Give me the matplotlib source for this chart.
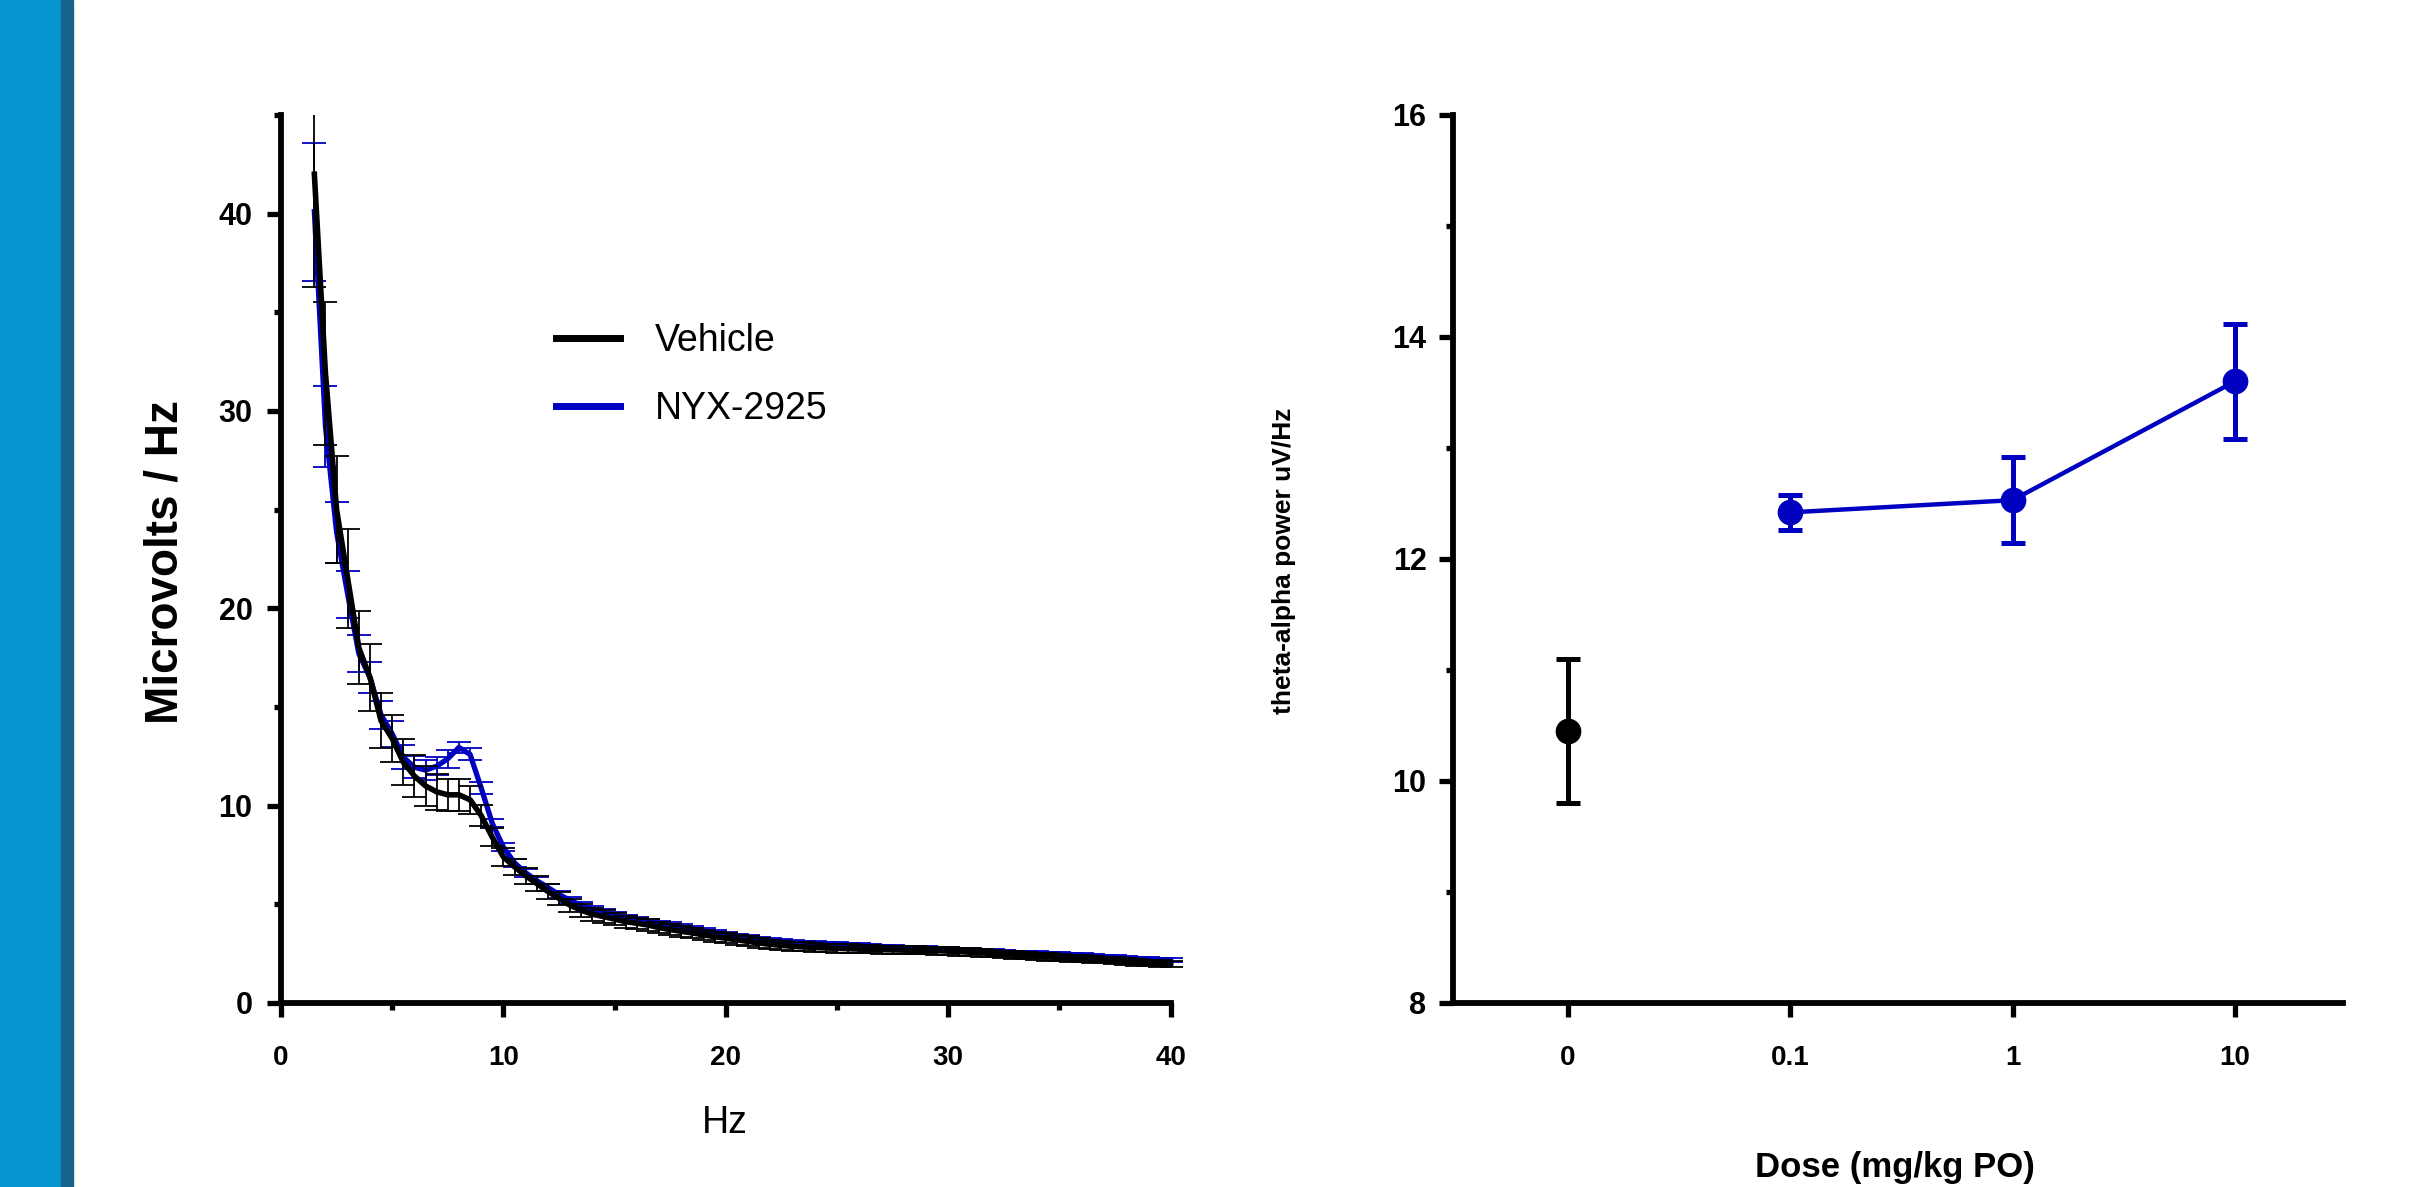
import numpy as np
import matplotlib.pyplot as plt
from matplotlib.lines import Line2D
from matplotlib.patches import Rectangle

plt.rcParams['font.family'] = ['Liberation Sans', 'DejaVu Sans']

# ---- left panel: EEG power spectrum (mean +/- SEM) ----
hz = [1.5, 2.0, 2.5, 3.0, 3.5, 4.0, 4.5, 5.0, 5.5, 6.0, 6.5, 7.0, 7.5, 8.0, 8.5, 9.0,
      9.5, 10.0, 10.5, 11.0, 11.5, 12.0, 12.5, 13.0, 13.5, 14.0, 14.5, 15.0, 15.5, 16.0,
      16.5, 17.0, 17.5, 18.0, 18.5, 19.0, 19.5, 20.0, 20.5, 21.0, 21.5, 22.0, 22.5, 23.0,
      23.5, 24.0, 24.5, 25.0, 25.5, 26.0, 26.5, 27.0, 27.5, 28.0, 28.5, 29.0, 29.5, 30.0,
      30.5, 31.0, 31.5, 32.0, 32.5, 33.0, 33.5, 34.0, 34.5, 35.0, 35.5, 36.0, 36.5, 37.0,
      37.5, 38.0, 38.5, 39.0, 39.5, 40.0]

vehicle = [42.0, 31.9, 25.0, 21.5, 18.0, 16.5, 14.3, 13.4, 12.2, 11.5, 11.0, 10.7, 10.55, 10.55,
           10.3, 9.5, 8.4, 7.4, 6.9, 6.45, 6.05, 5.65, 5.3, 4.95, 4.7, 4.5, 4.38, 4.25, 4.12,
           4.04, 3.95, 3.82, 3.72, 3.63, 3.55, 3.45, 3.36, 3.28, 3.2, 3.12, 3.04, 2.97, 2.92,
           2.87, 2.84, 2.81, 2.79, 2.77, 2.75, 2.73, 2.72, 2.7, 2.69, 2.68, 2.67, 2.66, 2.65,
           2.63, 2.6, 2.57, 2.54, 2.5, 2.47, 2.43, 2.4, 2.37, 2.33, 2.3, 2.27, 2.24, 2.21, 2.18,
           2.14, 2.1, 2.06, 2.03, 2.0, 1.97]
vehicle_sem = [5.7, 3.6, 2.7, 2.5, 1.85, 1.7, 1.4, 1.2, 1.17, 1.07, 1.0, 0.9, 0.8, 0.8, 0.7,
               0.52, 0.45, 0.45, 0.4, 0.4, 0.38, 0.36, 0.35, 0.34, 0.33, 0.32, 0.31, 0.3, 0.3,
               0.29, 0.29, 0.28, 0.28, 0.27, 0.27, 0.26, 0.26, 0.25, 0.25, 0.25, 0.24, 0.24,
               0.24, 0.23, 0.23, 0.23, 0.22, 0.22, 0.22, 0.22, 0.21, 0.21, 0.21, 0.21, 0.2, 0.2,
               0.2, 0.2, 0.2, 0.2, 0.19, 0.19, 0.19, 0.19, 0.19, 0.18, 0.18, 0.18, 0.18, 0.18,
               0.17, 0.17, 0.17, 0.17, 0.16, 0.16, 0.16, 0.16]

nyx = [40.1, 29.2, 23.85, 20.7, 17.7, 16.5, 14.6, 13.64, 12.45, 11.95, 11.8, 12.0, 12.38, 12.95,
       12.6, 10.9, 9.1, 7.9, 7.1, 6.6, 6.2, 5.85, 5.5, 5.2, 4.95, 4.75, 4.58, 4.45, 4.33, 4.23,
       4.13, 4.03, 3.94, 3.84, 3.75, 3.65, 3.56, 3.47, 3.38, 3.3, 3.22, 3.15, 3.1, 3.06, 3.03,
       3.0, 2.98, 2.96, 2.93, 2.9, 2.87, 2.85, 2.82, 2.8, 2.78, 2.76, 2.74, 2.72, 2.69, 2.67,
       2.64, 2.62, 2.59, 2.56, 2.54, 2.51, 2.49, 2.47, 2.44, 2.41, 2.38, 2.35, 2.32, 2.28,
       2.25, 2.22, 2.19, 2.16]
nyx_sem = [3.5, 2.05, 1.55, 1.2, 0.95, 0.8, 0.7, 0.66, 0.6, 0.55, 0.5, 0.45, 0.45, 0.3, 0.3,
           0.3, 0.2, 0.2, 0.2, 0.19, 0.18, 0.18, 0.17, 0.17, 0.16, 0.16, 0.16, 0.15, 0.15,
           0.15, 0.15, 0.14, 0.14, 0.14, 0.14, 0.14, 0.13, 0.13, 0.13, 0.13, 0.13, 0.13, 0.12,
           0.12, 0.12, 0.12, 0.12, 0.12, 0.12, 0.12, 0.11, 0.11, 0.11, 0.11, 0.11, 0.11, 0.11,
           0.11, 0.11, 0.11, 0.1, 0.1, 0.1, 0.1, 0.1, 0.1, 0.1, 0.1, 0.1, 0.1, 0.1, 0.1, 0.1,
           0.1, 0.1, 0.1, 0.1, 0.1]

# ---- right panel: theta-alpha power by dose ----
dose_labels = ['0', '0.1', '1', '10']
veh_power, veh_power_sem = 10.45, 0.65
drug_power = [12.42, 12.53, 13.60]
drug_power_sem = [0.16, 0.39, 0.52]

BLUE = '#0000C0'
W, H = 2410, 1187

fig = plt.figure(figsize=(24.1, 11.87), dpi=100)

# blue side strip
fig.patches.append(Rectangle((0, 0), 61 / W, 1, transform=fig.transFigure, color='#0796D1', zorder=0))
fig.patches.append(Rectangle((61 / W, 0), 12 / W, 1, transform=fig.transFigure, color='#15668A', zorder=0))


def style_axes(ax, ypad):
    for s in ['top', 'right']:
        ax.spines[s].set_visible(False)
    for s in ['left', 'bottom']:
        ax.spines[s].set_linewidth(4.2)
    ax.tick_params(which='major', length=10, width=3.8)
    ax.tick_params(which='minor', length=5, width=3.8)
    ax.tick_params(axis='y', which='major', labelsize=22, pad=ypad)
    ax.tick_params(axis='x', which='major', labelsize=20, pad=20)
    for lab in ax.get_xticklabels() + ax.get_yticklabels():
        lab.set_fontweight('bold')


# left
ax1 = fig.add_axes([281 / W, (H - 1003) / H, 903 / W, 888 / H])
ax1.errorbar(hz, nyx, yerr=nyx_sem, color=BLUE, lw=3.8, elinewidth=1.3,
             capsize=8.6, capthick=1.3, zorder=2)
ax1.errorbar(hz, vehicle, yerr=vehicle_sem, color='black', lw=4.0, elinewidth=1.3,
             capsize=8.6, capthick=1.3, zorder=3)
ax1.set_xlim(0, 40.6)
ax1.set_ylim(0, 45)
ax1.spines['bottom'].set_bounds(0, 40)
ax1.set_xticks([0, 10, 20, 30, 40])
ax1.set_xticks([5, 15, 25, 35], minor=True)
ax1.set_yticks([0, 10, 20, 30, 40])
ax1.set_yticks([5, 15, 25, 35, 45], minor=True)
style_axes(ax1, 10.5)

handles = [Line2D([], [], color='black', lw=5), Line2D([], [], color=BLUE, lw=5)]
ax1.legend(handles, ['Vehicle', 'NYX-2925'], loc='upper left',
           bbox_to_anchor=(556 / W, 1 - 323 / H), bbox_transform=fig.transFigure,
           frameon=False, borderpad=0, borderaxespad=0, handlelength=1.7,
           handletextpad=0.93, labelspacing=0.86, fontsize=27)

fig.text(165 / W, 1 - 562 / H, 'Microvolts / Hz', rotation=90, ha='center', va='center',
         fontsize=33, fontweight='bold')
fig.text(725 / W, 1 - 1123 / H, 'Hz', ha='center', va='center', fontsize=27)

# right
ax2 = fig.add_axes([1453 / W, (H - 1003) / H, 890 / W, 888 / H])
pos = np.arange(len(dose_labels))
ax2.errorbar([pos[0]], [veh_power], yerr=[veh_power_sem], color='black', marker='o', ms=17.5,
             lw=0, elinewidth=3.6, capsize=8.7, capthick=3.6, zorder=3)
ax2.errorbar(pos[1:], drug_power, yerr=drug_power_sem, color=BLUE, marker='o', ms=17.5,
             lw=3.2, elinewidth=3.6, capsize=8.7, capthick=3.6, zorder=3)
ax2.set_xlim(-0.517, 3.486)
ax2.set_ylim(8, 16)
ax2.set_xticks(pos)
ax2.set_xticklabels(dose_labels)
ax2.set_yticks([8, 10, 12, 14, 16])
ax2.set_yticks([9, 11, 13, 15], minor=True)
style_axes(ax2, 9)

fig.text(1284 / W, 1 - 561 / H, 'theta-alpha power uV/Hz', rotation=90, ha='center',
         va='center', fontsize=19, fontweight='bold')
fig.text(1895 / W, 1 - 1167 / H, 'Dose (mg/kg PO)', ha='center', va='center',
         fontsize=25, fontweight='bold')

fig.savefig('out.png', dpi=100)
